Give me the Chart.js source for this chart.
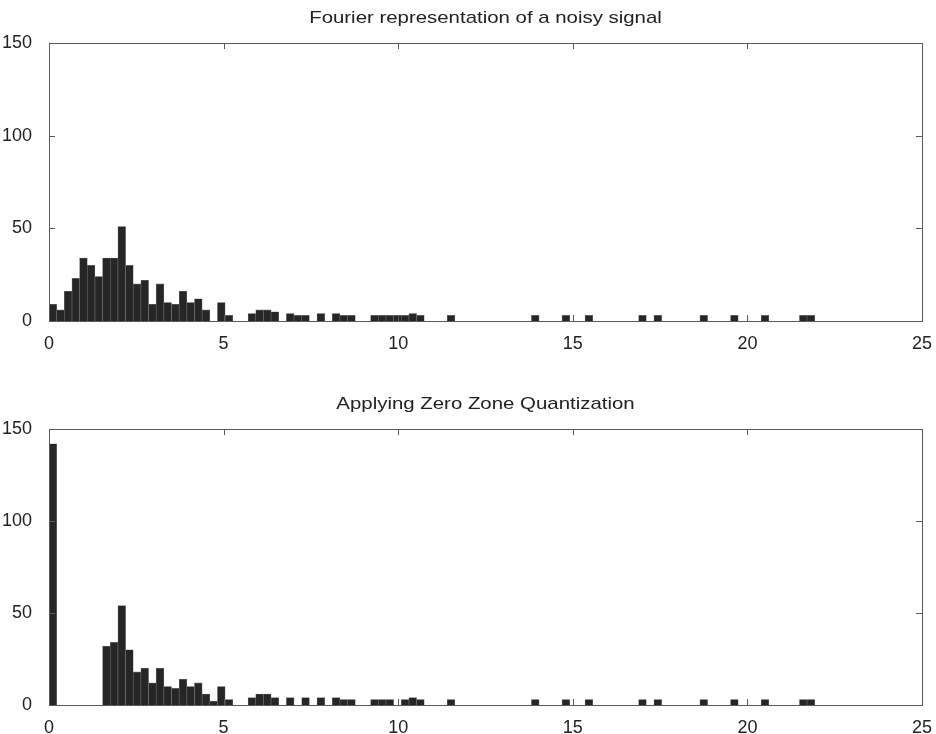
<!DOCTYPE html>
<html>
<head>
<meta charset="utf-8">
<script src="https://cdn.jsdelivr.net/npm/chart.js@4/dist/chart.umd.min.js"></script>
<style>
  html, body { margin: 0; padding: 0; background: #fff; }
  #wrap { position: relative; width: 936px; height: 734px; }
  canvas { position: absolute; left: 0; }
  #top { top: 0; }
  #bottom { top: 367px; }
</style>
</head>
<body>
<div id="wrap">
  <canvas id="top" width="936" height="367"></canvas>
  <canvas id="bottom" width="936" height="367"></canvas>
</div>
<script>
// histogram counts, 100 bins from 0 to ~21.93
const binWidth = 0.2193;

const noisyCounts = [
  9, 6, 16, 23, 34, 30, 24, 34, 34, 51,
  30, 20, 22, 9, 20, 10, 9, 16, 10, 12,
  6, 0, 10, 3, 0, 0, 4, 6, 6, 5,
  0, 4, 3, 3, 0, 4, 0, 4, 3, 3,
  0, 0, 3, 3, 3, 3, 3, 4, 3, 0,
  0, 0, 3, 0, 0, 0, 0, 0, 0, 0,
  0, 0, 0, 3, 0, 0, 0, 3, 0, 0,
  3, 0, 0, 0, 0, 0, 0, 3, 0, 3,
  0, 0, 0, 0, 0, 3, 0, 0, 0, 3,
  0, 0, 0, 3, 0, 0, 0, 0, 3, 3
];

const quantCounts = [
  142, 0, 0, 0, 0, 0, 0, 32, 34, 54,
  30, 18, 20, 12, 20, 10, 9, 14, 10, 12,
  6, 2, 10, 3, 0, 0, 4, 6, 6, 4,
  0, 4, 0, 4, 0, 4, 0, 4, 3, 3,
  0, 0, 3, 3, 3, 0, 3, 4, 3, 0,
  0, 0, 3, 0, 0, 0, 0, 0, 0, 0,
  0, 0, 0, 3, 0, 0, 0, 3, 0, 0,
  3, 0, 0, 0, 0, 0, 0, 3, 0, 3,
  0, 0, 0, 0, 0, 3, 0, 0, 0, 3,
  0, 0, 0, 3, 0, 0, 0, 0, 3, 3
];

const xTicks = [0, 5, 10, 15, 20, 25];
const yTicks = [0, 50, 100, 150];

const titles = ['Fourier representation of a noisy signal', 'Applying Zero Zone Quantization'];

const font = "'Liberation Sans', Arial, sans-serif";

// matlab-ish box with inward tick marks and a centred title
const boxPlugin = {
  id: 'box',
  afterDraw(chart, args, opts) {
    const { ctx, chartArea: a, scales } = chart;
    ctx.save();
    ctx.strokeStyle = '#5a5a5a';
    ctx.lineWidth = 1;
    ctx.strokeRect(a.left + 0.5, a.top + 0.5, a.right - a.left, a.bottom - a.top);
    ctx.beginPath();
    xTicks.forEach(v => {
      const x = Math.round(scales.x.getPixelForValue(v)) + 0.5;
      ctx.moveTo(x, a.top); ctx.lineTo(x, a.top + 6);
      ctx.moveTo(x, a.bottom); ctx.lineTo(x, a.bottom - 6);
    });
    yTicks.forEach(v => {
      const y = Math.round(scales.y.getPixelForValue(v)) + 0.5;
      ctx.moveTo(a.left, y); ctx.lineTo(a.left + 6, y);
      ctx.moveTo(a.right, y); ctx.lineTo(a.right - 6, y);
    });
    ctx.stroke();
    // title, slightly widened
    ctx.fillStyle = '#222';
    ctx.font = '17px ' + font;
    ctx.textAlign = 'center';
    ctx.textBaseline = 'middle';
    ctx.translate((a.left + a.right) / 2, a.top - 25);
    ctx.scale(1.2, 1);
    ctx.fillText(opts.text, 0, 0);
    ctx.restore();
  }
};

function makeChart(id, counts, title, padTop, xHeight) {
  new Chart(document.getElementById(id), {
    type: 'bar',
    data: {
      datasets: [{
        data: counts.map((c, i) => ({ x: (i + 0.5) * binWidth, y: c })),
        backgroundColor: '#262626',
        borderColor: '#707070',
        borderWidth: 0.6,
        barPercentage: 1,
        categoryPercentage: 1
      }]
    },
    options: {
      responsive: false,
      animation: false,
      devicePixelRatio: 1,
      layout: { padding: { top: padTop, right: 14, left: 0, bottom: 0 } },
      plugins: {
        legend: { display: false },
        tooltip: { enabled: false },
        box: { text: title }
      },
      scales: {
        x: {
          type: 'linear',
          min: 0, max: 25,
          offset: false,
          grid: { display: false, offset: false },
          border: { display: false },
          afterBuildTicks: s => { s.ticks = xTicks.map(v => ({ value: v })); },
          afterFit: s => { s.height = xHeight; },
          ticks: { color: '#222', font: { family: font, size: 18 }, padding: 4, maxRotation: 0 }
        },
        y: {
          min: 0, max: 150,
          grid: { display: false },
          border: { display: false },
          afterBuildTicks: s => { s.ticks = yTicks.map(v => ({ value: v })); },
          afterFit: s => { s.width = 49; },
          ticks: { color: '#222', font: { family: font, size: 18 }, padding: 9 }
        }
      }
    },
    plugins: [boxPlugin]
  });
}

makeChart('top', noisyCounts, titles[0], 43, 46);
makeChart('bottom', quantCounts, titles[1], 62, 29);
</script>
</body>
</html>
